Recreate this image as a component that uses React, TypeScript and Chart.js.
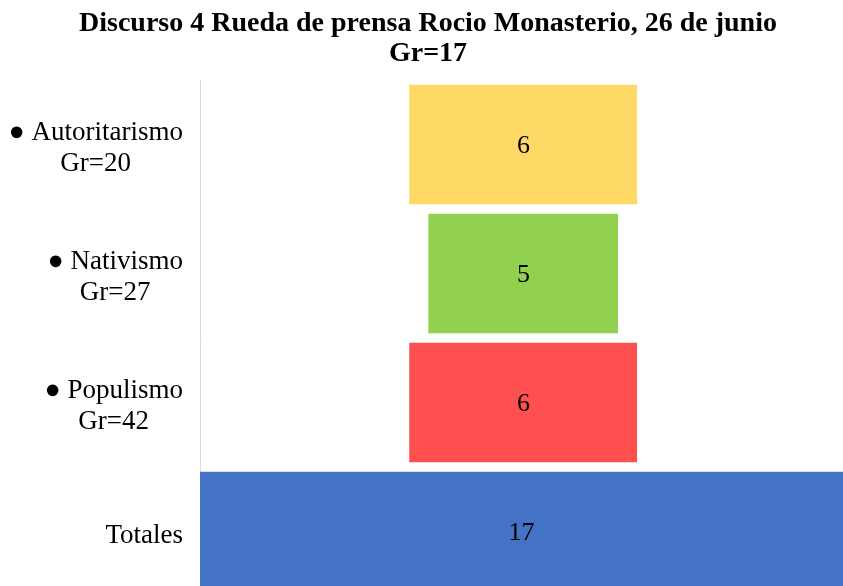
import React, { useEffect, useRef } from "react";
import { Chart, registerables } from "chart.js";

Chart.register(...registerables);

const titleLines = ["Discurso 4 Rueda de prensa Rocio Monasterio, 26 de junio", "Gr=17"];
const categories = [
  ["● Autoritarismo", "Gr=20"],
  ["● Nativismo", "Gr=27"],
  ["● Populismo", "Gr=42"],
  ["Totales"],
];
const values = [6, 5, 6, 17];
const colors = ["#FFD966", "#92D050", "#FF5050", "#4472C4"];
const axisMin = -8.48;
const axisMax = 8.37;

const SERIF = "'Liberation Serif', 'Times New Roman', serif";

export default function App() {
  const ref = useRef<HTMLCanvasElement | null>(null);

  useEffect(() => {
    if (!ref.current) return;
    const overlay = {
      id: "overlay",
      afterDatasetsDraw(chart: any) {
        const { ctx } = chart;
        const meta = chart.getDatasetMeta(0);
        const area = chart.chartArea;
        ctx.save();
        // value labels
        ctx.fillStyle = "#000";
        ctx.font = `26px ${SERIF}`;
        ctx.textAlign = "center";
        ctx.textBaseline = "middle";
        meta.data.forEach((bar: any, i: number) => {
          const l = Math.max(Math.min(bar.x, bar.base), area.left);
          const r = Math.min(Math.max(bar.x, bar.base), area.right);
          ctx.fillText(String(values[i]), (l + r) / 2, bar.y + 2);
        });
        // category labels
        const yScale = chart.scales.y;
        ctx.font = `27px ${SERIF}`;
        const rightEdge = 183;
        const lh = 31;
        categories.forEach((lines, i) => {
          const cy = yScale.getPixelForValue(i);
          const w = Math.max(...lines.map((l) => ctx.measureText(l).width));
          const cx = rightEdge - w / 2;
          const y0 = cy + 4 - ((lines.length - 1) * lh) / 2;
          lines.forEach((l, j) => ctx.fillText(l, cx, y0 + j * lh));
        });
        // title
        ctx.font = `bold 28px ${SERIF}`;
        ctx.fillText(titleLines[0], 428, 24);
        ctx.fillText(titleLines[1], 428, 54);
        ctx.restore();
      },
    };

    const chart = new Chart(ref.current, {
      type: "bar",
      data: {
        labels: categories.map((c) => c.join(" ")),
        datasets: [
          {
            data: values.map((v) => [-v / 2, v / 2]) as any,
            backgroundColor: colors,
            borderColor: "rgba(255,255,255,0.6)",
            borderWidth: 1,
            barPercentage: 1,
            categoryPercentage: 0.94,
          },
        ],
      },
      options: {
        indexAxis: "y",
        responsive: false,
        animation: false,
        devicePixelRatio: 1,
        layout: { padding: { top: 80, right: 0, bottom: 0, left: 0 } },
        plugins: { legend: { display: false }, tooltip: { enabled: false }, title: { display: false } },
        scales: {
          x: { display: false, min: axisMin, max: axisMax },
          y: {
            grid: { display: false },
            border: { display: true, color: "#D9D9D9", width: 1 },
            ticks: { display: false },
            afterFit: (scale: any) => {
              scale.width = 200;
            },
          },
        },
      },
      plugins: [overlay],
    });
    return () => chart.destroy();
  }, []);

  return (
    <div style={{ position: "fixed", left: 0, top: 0, width: 843, height: 586, overflow: "hidden", background: "#fff" }}>
      <canvas ref={ref} width={843} height={596} style={{ display: "block" }} />
    </div>
  );
}
